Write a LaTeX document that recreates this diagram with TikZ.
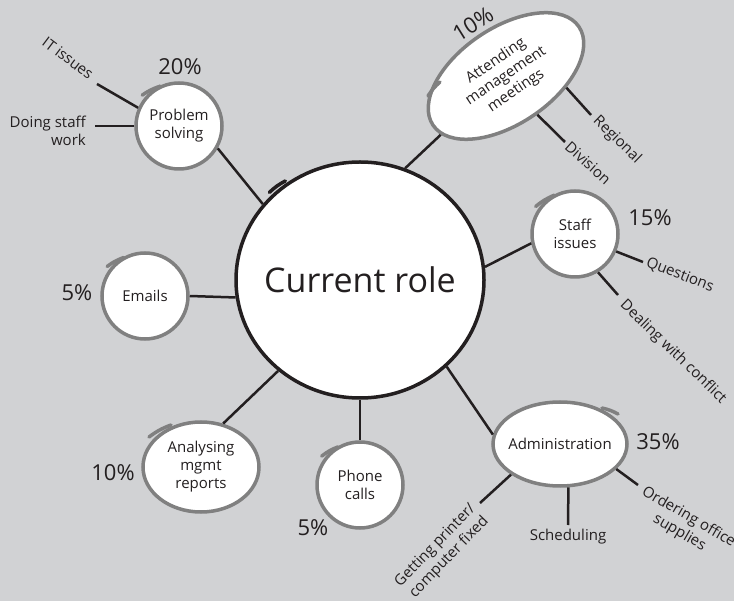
\documentclass[tikz,border=0pt]{standalone}
\usepackage{fontspec}
\setmainfont{Open Sans}
\usepackage{tikz}
\usetikzlibrary{calc,shapes.geometric}
\definecolor{paper}{RGB}{209,210,212}
\definecolor{ink}{RGB}{35,31,32}
\definecolor{rim}{RGB}{128,128,128}
\def\tailarc[#1](#2)(#3)(#4){\draw[#1] ($(#2)+(#3)$) to[bend left=8] ($(#2)+(#4)$);}
\tikzset{
	role/.style={ellipse, draw=ink, line width=3.5, fill=white, inner sep=0, minimum width=248, minimum height=236, text=ink, font=\fontsize{34}{40}\selectfont},
	task/.style={circle, draw=rim, line width=3.5, fill=white, inner sep=0, minimum size=86, align=center, text=ink, font=\fontsize{15}{18}\selectfont},
	oval/.style={task, ellipse},
	leaf/.style={inner sep=1, align=center, text=ink, font=\fontsize{15}{18}\selectfont},
	share/.style={inner sep=1, text=ink, font=\fontsize{22}{26}\selectfont},
	link/.style={draw=ink, line width=2.5},
	tail/.style={draw=rim, line width=3.5, line cap=round}
}

\begin{document}
\begin{tikzpicture}[x=1pt,y=1pt]
			%%%%% START %%%%%
			
			\fill[paper] (0,0) rectangle (734,-601);
			\useasboundingbox (0,0) rectangle (734,-601);
			
			\node[role] (main) at (360,-280) {\makebox[100pt]{Current role}};
			
			\node[task] (ps) at (179,-126) {Problem\\solving};
			\node[oval, minimum width=176, minimum height=96, rotate=34] (amm) at (506,-76) {Attending\\management\\meetings};
			\node[task] (si) at (575,-234) {Staff\\issues};
			\node[oval, minimum width=134, minimum height=84] (ad) at (560,-444) {\makebox[70pt]{Administration}};
			\node[task] (ph) at (360,-485) {Phone\\calls};
			\node[oval, minimum width=116, minimum height=90] (an) at (201,-467) {Analysing\\mgmt\\reports};
			\node[task] (em) at (145,-296) {Emails};
			
			\tailarc[tail, draw=ink](main)(136:126)(127:124)
			\tailarc[tail](ps)(140:48)(115:44)
			\tailarc[tail](amm)(-78,-20)(-66,-6)
			\tailarc[tail](si)(145:48)(118:44)
			\tailarc[tail](ad)(42,36)(58,30)
			\tailarc[tail](ph)(143:48)(120:44)
			\tailarc[tail](an)(-52,30)(-30,42)
			\tailarc[tail](em)(142:48)(119:44)
			
			\node[share] (p20) at (180,-67) {20\%};
			\node[share, rotate=32] (p10a) at (473,-24) {10\%};
			\node[share] (p15) at (650,-218) {15\%};
			\node[share] (p35) at (658,-442) {35\%};
			\node[share] (p5b) at (313,-528) {5\%};
			\node[share] (p10b) at (113,-473) {10\%};
			\node[share] (p5a) at (77,-293) {5\%};
			
			\node[leaf, rotate=-37] (itl) at (68,-58) {IT issues};
			\node[leaf, align=right, anchor=east] (dswl) at (87,-131) {Doing staff\\work};
			\node[leaf, rotate=-44] (regl) at (617,-140) {Regional};
			\node[leaf, rotate=-42] (divl) at (588,-163) {Division};
			\node[leaf, rotate=-21] (ql) at (680,-275) {Questions};
			\node[leaf, rotate=-44] (dwcl) at (673,-352) {Dealing with conflict};
			\node[leaf, align=right, rotate=46] (gpl) at (442,-552) {Getting printer/\\computer fixed};
			\node[leaf] (schl) at (568,-537) {Scheduling};
			\node[leaf, rotate=-30] (oosl) at (684,-525) {Ordering office\\supplies};
			
			\coordinate (itc) at (97,-84);
			\coordinate (dswc) at (95,-126);
			\coordinate (regc) at (591,-115);
			\coordinate (divc) at (565,-142);
			\coordinate (qc) at (643,-262);
			\coordinate (dwcc) at (618,-295);
			\coordinate (gpc) at (480,-503);
			\coordinate (schc) at (568,-525);
			\coordinate (oosc) at (638,-485);
			
			\draw[link] (main.142) -- (ps.-30);
			\draw[link] (ps.156) -- (itc);
			\draw[link] (ps.west) -- (dswc);
			
			\draw[link] (main.68) -- (amm.188);
			\draw[link] (amm.-45) -- (regc);
			\draw[link] (amm.-85) -- (divc);
			
			\draw[link] (main.6) -- (si.192);
			\draw[link] (si.-23) -- (qc);
			\draw[link] (si.-59) -- (dwcc);
			
			\draw[link] (main.-45) -- (ad.172);
			\draw[link] (ad.212) -- (gpc);
			\draw[link] (ad.-79) -- (schc);
			\draw[link] (ad.-24) -- (oosc);
			
			\draw[link] (main.south) -- (ph.north);
			\draw[link] (main.228) -- (an.63);
			\draw[link] (main.188) -- (em.east);
			
			%%%%% END %%%%%
		\end{tikzpicture}
\end{document}
